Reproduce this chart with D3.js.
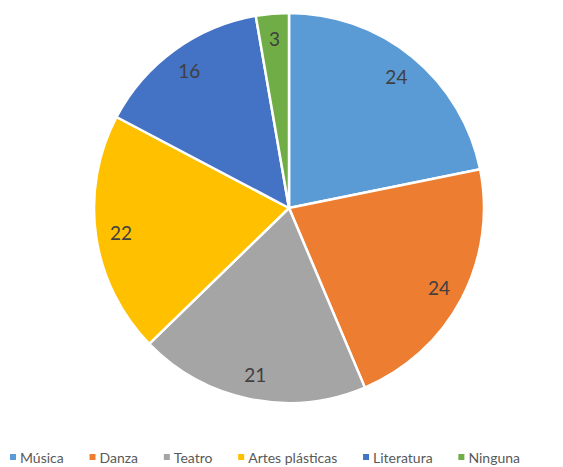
<!DOCTYPE html>
<html>
<head>
<meta charset="utf-8">
<script src="https://cdn.jsdelivr.net/npm/d3@7"></script>
<style>
  html, body { margin: 0; padding: 0; background: #ffffff; }
  svg { display: block; }
</style>
</head>
<body>
<svg id="chart" width="563" height="467"></svg>
<script>
// Categories and their counts, drawn clockwise from 12 o'clock
const categories = ["Música", "Danza", "Teatro", "Artes plásticas", "Literatura", "Ninguna"];
const values = [24, 24, 21, 22, 16, 3];
const colors = ["#5B9BD5", "#ED7D31", "#A5A5A5", "#FFC000", "#4472C4", "#70AD47"];

const svg = d3.select("#chart");
const cx = 289, cy = 208, R = 195;

const data = categories.map((c, i) => ({ name: c, value: values[i], color: colors[i] }));

const pie = d3.pie().value(d => d.value).sort(null);
const arc = d3.arc().innerRadius(0).outerRadius(R);
const labelArc = d3.arc().innerRadius(R * 0.87).outerRadius(R * 0.87);

const g = svg.append("g").attr("transform", `translate(${cx},${cy})`);
const arcs = pie(data);

g.selectAll("path.slice")
  .data(arcs)
  .join("path")
  .attr("class", "slice")
  .attr("d", arc)
  .attr("fill", d => d.data.color)
  .attr("stroke", "#ffffff")
  .attr("stroke-width", 2.5)
  .attr("stroke-linejoin", "round");

g.selectAll("text.value")
  .data(arcs)
  .join("text")
  .attr("class", "value")
  .attr("transform", d => `translate(${labelArc.centroid(d)})`)
  .attr("text-anchor", "middle")
  .attr("dominant-baseline", "central")
  .attr("font-family", "Lato, 'Open Sans', sans-serif")
  .attr("font-size", 19)
  .attr("fill", "#404040")
  .text(d => d.data.value);

// Legend row along the bottom
const legend = svg.append("g").attr("class", "legend");
const legY = 457, legLeft = 10, legRight = 520, sq = 6, sqGap = 4;

const items = legend.selectAll("g.item")
  .data(data)
  .join("g")
  .attr("class", "item");

items.append("rect")
  .attr("width", sq)
  .attr("height", sq)
  .attr("y", legY - sq / 2)
  .attr("fill", d => d.color);

items.append("text")
  .attr("x", sq + sqGap)
  .attr("y", legY)
  .attr("dominant-baseline", "central")
  .attr("font-family", "Lato, 'Open Sans', sans-serif")
  .attr("font-size", 14)
  .attr("fill", "#595959")
  .text(d => d.name);

const widths = [];
items.each(function () {
  widths.push(sq + sqGap + d3.select(this).select("text").node().getComputedTextLength());
});
const totalW = d3.sum(widths);
const gap = (legRight - legLeft - totalW) / (widths.length - 1);
let xPos = legLeft;
items.each(function (d, i) {
  d3.select(this).attr("transform", `translate(${xPos},0)`);
  xPos += widths[i] + gap;
});
</script>
</body>
</html>
